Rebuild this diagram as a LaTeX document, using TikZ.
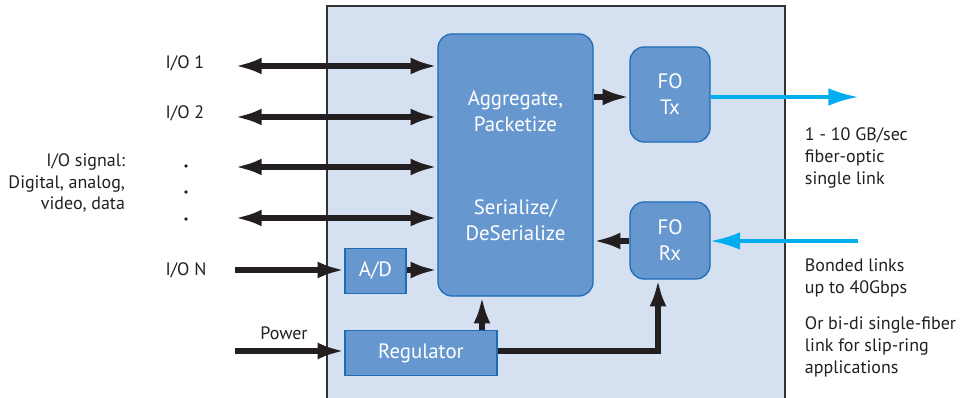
\documentclass[tikz,border=0pt]{standalone}
\usepackage{fontspec}
\setmainfont{PT Sans}
\usetikzlibrary{arrows.meta, positioning}
\definecolor{panelblue}{HTML}{D5E0F1}
\definecolor{boxblue}{HTML}{6697CF}
\definecolor{edgeblue}{HTML}{1C6DB6}
\definecolor{fibercyan}{HTML}{00AEEF}
\definecolor{wire}{HTML}{231F20}

\begin{document}
\begin{tikzpicture}[x=0.025cm, y=-0.025cm]
		\tikzset{
			block/.style={rectangle, draw=edgeblue, fill=boxblue, line width=0.9pt, text=white, align=center, font=\fontsize{14.8}{18.5}\selectfont},
			roundblock/.style={block, rounded corners=10pt},
			boxtext/.style={text=white, align=center, font=\fontsize{14.8}{18.5}\selectfont},
			note/.style={align=left, font=\fontsize{12.8}{15.6}\selectfont, text=wire},
			sig/.style={-{Latex[length=19pt, width=12pt]}, line width=3.6pt, color=wire},
			bisig/.style={{Latex[length=19pt, width=12pt]}-{Latex[length=19pt, width=12pt]}, line width=3.6pt, color=wire},
			fiber/.style={-{Latex[length=21pt, width=12.5pt]}, line width=2.2pt, color=fibercyan},
			dotmark/.style={circle, fill=wire, inner sep=0pt, minimum size=2.8pt}
		}
		\useasboundingbox (0,0) rectangle (972,398);
		\fill[panelblue] (327,6) rectangle (785,402);
		\draw[gray!40!black, line width=0.8pt] (327,402) -- (327,6) -- (785,6) -- (785,402);

		% blocks inside the unit
		\node[roundblock, minimum width=3.875cm, minimum height=6.55cm] (main) at (515.5,165) {};
		\node[boxtext] (agg) at (515.5,111) {Aggregate,\\Packetize};
		\node[boxtext] (ser) at (515.5,220) {Serialize/\\DeSerialize};
		\node[roundblock, minimum width=2cm, minimum height=2.375cm] (tx) at (670,94.5) {FO\\Tx};
		\node[roundblock, minimum width=2cm, minimum height=1.925cm] (rx) at (670,240.5) {FO\\Rx};
		\node[block, minimum width=1.525cm, minimum height=1.125cm] (ad) at (375.5,271) {A/D};
		\node[block, minimum width=3.8cm, minimum height=1.125cm] (reg) at (421,353) {Regulator};

		% left side labels
		\node[note, anchor=center] (io1) at (185,63) {I/O 1};
		\node[note, anchor=center] (io2) at (185,113) {I/O 2};
		\node[dotmark] (dot1) at (186,166) {};
		\node[dotmark] (dot2) at (186,192) {};
		\node[dotmark] (dot3) at (186,219) {};
		\node[note, align=right, anchor=east] (iosig) at (130,183) {I/O signal:\\Digital, analog,\\video, data};
		\node[note, anchor=center] (ion) at (186,270) {I/O N};
		\node[note, anchor=center] (power) at (284,333) {Power};

		% right side labels
		\node[note, anchor=west] (rate) at (800,158) {1 - 10 GB/sec\\fiber-optic\\single link};
		\node[note, anchor=west] (bonded) at (800,278) {Bonded links\\up to 40Gbps};
		\node[note, anchor=west] (bidi) at (800,347) {Or bi-di single-fiber\\link for slip-ring\\applications};

		% free ends of the connectors
		\coordinate (in1) at (235,66);
		\coordinate (in2) at (235,117);
		\coordinate (in3) at (235,167);
		\coordinate (in4) at (235,218);
		\coordinate (inN) at (235,270);
		\coordinate (inP) at (235,351);
		\coordinate (feed) at (482,0);
		\coordinate (rxfeed) at (658,0);
		\coordinate (txout) at (858,0);
		\coordinate (rxin) at (858,241);

		\draw[bisig] (in1) -- (in1 -| main.west);
		\draw[bisig] (in2) -- (in2 -| main.west);
		\draw[bisig] (in3) -- (in3 -| main.west);
		\draw[bisig] (in4) -- (in4 -| main.west);
		\draw[sig] (inN) -- (inN -| ad.west);
		\draw[sig] (inN -| ad.east) -- (inN -| main.west);
		\draw[sig] (inP) -- (inP -| reg.west);
		\draw[sig] (feed |- reg.north) -- (feed |- main.south);
		\draw[sig] (inP -| reg.east) -| (rxfeed |- rx.south);
		\draw[sig] (main.east |- 0,97) -- (tx.west |- 0,97);
		\draw[sig] (rx.west |- rxin) -- (main.east |- rxin);

		\draw[fiber] (tx.east |- 0,97) -- (txout |- 0,97);
		\draw[fiber] (rxin) -- (rx.east |- rxin);
	\end{tikzpicture}
\end{document}
